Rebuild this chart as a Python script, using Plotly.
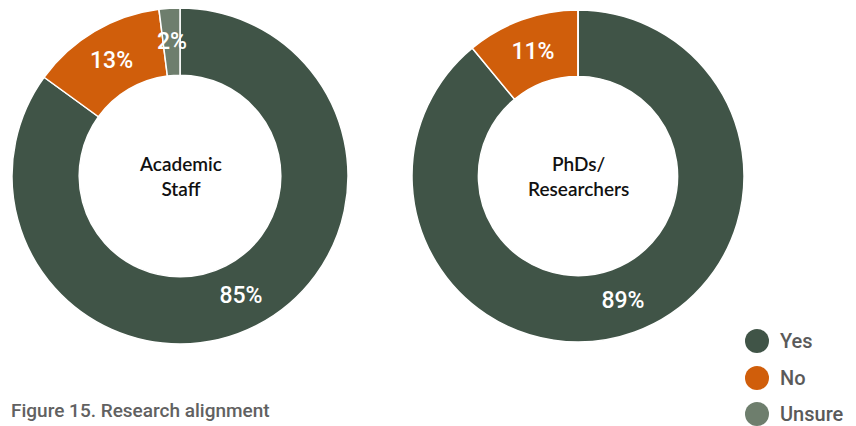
import math
import plotly.graph_objects as go

categories = ["Yes", "No", "Unsure"]
academic_values = [85, 13, 2]
phd_values = [89, 11, 0]
group_labels = ["Academic<br>Staff", "PhDs/<br>Researchers"]
colors = ["#405447", "#D05E0B", "#6E7E6D"]
title_text = "Figure 15. Research alignment"

W, H = 856, 426
HOLE = 0.6
MIN_INSIDE = 5  # slices below this share get their label as a free annotation

label_font = dict(family="Roboto", size=23, color="white", weight=500)


def pie(values, domain_x, domain_y):
    return go.Pie(
        labels=categories,
        values=values,
        text=[f"{v}%" if v >= MIN_INSIDE else "" for v in values],
        textinfo="text",
        textposition="inside",
        insidetextorientation="horizontal",
        textfont=label_font,
        hole=HOLE,
        sort=False,
        direction="clockwise",
        rotation=0,
        marker=dict(colors=colors, line=dict(color="white", width=1.5)),
        domain=dict(x=domain_x, y=domain_y),
        showlegend=False,
        hoverinfo="label+percent",
    )


pies = [
    (academic_values, [12 / W, 348 / W], [(H - 345) / H, (H - 7) / H]),
    (phd_values, [412 / W, 744 / W], [(H - 342) / H, (H - 10) / H]),
]

fig = go.Figure()
for vals, dx, dy in pies:
    fig.add_trace(pie(vals, dx, dy))

# center captions and labels of very thin slices (computed from the data)
for (vals, dx, dy), lab in zip(pies, group_labels):
    cx = (dx[0] + dx[1]) / 2
    cy = (dy[0] + dy[1]) / 2
    fig.add_annotation(
        x=cx, y=cy, xref="paper", yref="paper", text=lab, showarrow=False,
        font=dict(family="Lato", size=19, color="#111111", weight=600),
        align="center", xanchor="center", yanchor="middle",
    )
    r_px = min((dx[1] - dx[0]) * W, (dy[1] - dy[0]) * H) / 2
    total = sum(vals)
    cum = 0
    for v in vals:
        if 0 < v < MIN_INSIDE:
            ang = (cum + v / 2) / total * 2 * math.pi
            rm = r_px * (1 + HOLE) / 2
            fig.add_annotation(
                x=cx + rm * math.sin(ang) / W, y=cy + rm * math.cos(ang) / H,
                xref="paper", yref="paper", text=f"{v}%", showarrow=False,
                font=label_font, xanchor="center", yanchor="middle",
            )
        cum += v

# legend rows: circular swatch + label
legend_y = [341, 378, 414]
SW = 12  # swatch radius in px
for cat, col, ly in zip(categories, colors, legend_y):
    fig.add_shape(
        type="circle", xref="paper", yref="paper",
        x0=(757 - SW) / W, x1=(757 + SW) / W,
        y0=(H - ly - SW) / H, y1=(H - ly + SW) / H,
        fillcolor=col, line=dict(width=0),
    )
    fig.add_annotation(
        x=778 / W, y=(H - ly) / H, xref="paper", yref="paper", text=cat,
        showarrow=False, xanchor="left", yanchor="middle",
        font=dict(family="Roboto", size=20, color="#5a5a5a", weight=500),
    )

fig.add_annotation(
    x=9 / W, y=(H - 410) / H, xref="paper", yref="paper", text=title_text,
    showarrow=False, xanchor="left", yanchor="middle",
    font=dict(family="Roboto", size=19, color="#616161", weight=500),
)

fig.update_layout(
    width=W, height=H,
    margin=dict(l=0, r=0, t=0, b=0, autoexpand=False),
    paper_bgcolor="white", plot_bgcolor="white",
    showlegend=False,
)

fig.write_html(
    "out.html",
    config={"displayModeBar": False},
    post_script="document.body.style.margin='0';document.body.style.overflow='hidden';",
)
